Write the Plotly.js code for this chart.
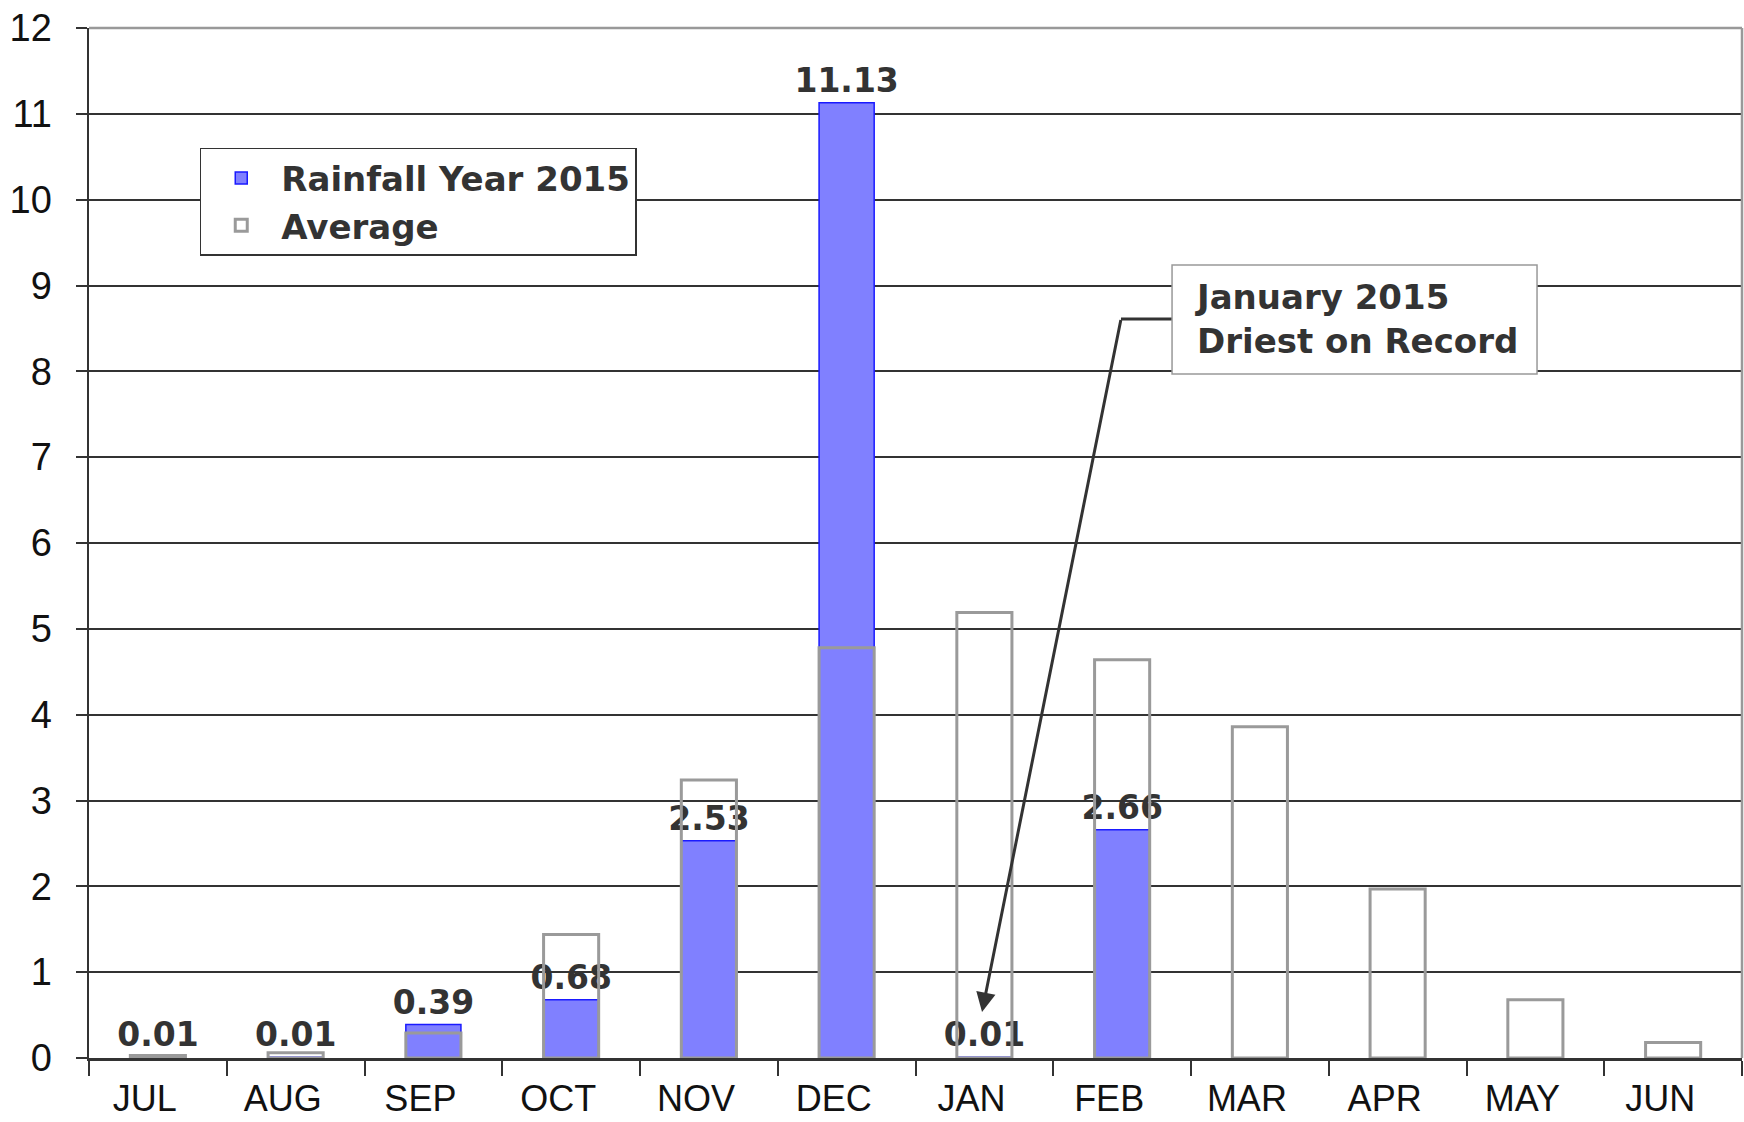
<!DOCTYPE html>
<html>
<head>
<meta charset="utf-8">
<script src="https://cdn.plot.ly/plotly-3.0.1.min.js"></script>
<style>html,body{margin:0;padding:0;background:#fff;}#chart{width:1744px;height:1122px;}</style>
</head>
<body>
<div id="chart"></div>
<script>
const months = ['JUL','AUG','SEP','OCT','NOV','DEC','JAN','FEB','MAR','APR','MAY','JUN'];
const rainfall2015 = [0.01, 0.01, 0.39, 0.68, 2.53, 11.13, 0.01, 2.66, null, null, null, null];
const average = [0.03, 0.06, 0.29, 1.44, 3.24, 4.78, 5.19, 4.64, 3.86, 1.97, 0.68, 0.18];
const rainLabels = rainfall2015.map(v => v == null ? '' : v.toFixed(2));
const yTicks = [0,1,2,3,4,5,6,7,8,9,10,11,12];

const boldFont = {family: 'DejaVu Sans', size: 33, color: '#333333', weight: 'bold'};

const traces = [
  {
    type: 'bar', name: 'Rainfall Year 2015', x: months, y: rainfall2015,
    width: 0.4,
    marker: {color: '#8080ff', line: {color: '#1a1aff', width: 1.5}},
    text: rainLabels, textposition: 'outside', constraintext: 'none', cliponaxis: false,
    textfont: boldFont, outsidetextfont: boldFont, hoverinfo: 'x+y'
  },
  {
    type: 'bar', name: 'Average', x: months, y: average,
    width: 0.4,
    marker: {color: 'rgba(255,255,255,0)', line: {color: '#9a9a9a', width: 3}},
    hoverinfo: 'x+y'
  }
];

const layout = {
  width: 1744, height: 1122,
  margin: {l: 89, r: 2, t: 28, b: 64},
  paper_bgcolor: '#ffffff', plot_bgcolor: '#ffffff',
  barmode: 'overlay',
  showlegend: true,
  legend: {
    x: 0.067, y: 0.8835, xanchor: 'left', yanchor: 'top',
    bgcolor: '#ffffff', bordercolor: '#333333', borderwidth: 1.5,
    font: {family: 'DejaVu Sans', size: 34, color: '#333333', weight: 'bold'},
    itemwidth: 70, tracegroupgap: 0
  },
  xaxis: {
    type: 'category', categoryorder: 'array', categoryarray: months,
    range: [-0.5, 11.5],
    tickson: 'boundaries', ticks: 'outside', ticklen: 15, tickwidth: 2, tickcolor: '#333333',
    showline: true, linecolor: '#333333', linewidth: 2.5,
    showgrid: false, zeroline: false,
    tickfont: {family: 'Liberation Sans', size: 36, color: '#111111'},
    ticklabelstandoff: 7, ticklabelshift: -13
  },
  yaxis: {
    range: [0, 12], tickvals: yTicks, ticktext: yTicks.map(String),
    ticks: 'outside', ticklen: 11, tickwidth: 2, tickcolor: '#333333',
    showline: true, linecolor: '#333333', linewidth: 2.5,
    showgrid: true, gridcolor: '#333333', gridwidth: 2, zeroline: false,
    tickfont: {family: 'Liberation Sans', size: 38, color: '#111111'},
    ticklabelstandoff: 16
  },
  shapes: [
    {type: 'line', xref: 'paper', yref: 'paper', x0: 0, x1: 1, y0: 1, y1: 1, line: {color: '#999999', width: 2.5}, layer: 'above'},
    {type: 'line', xref: 'paper', yref: 'paper', x0: 1, x1: 1, y0: 0, y1: 1, line: {color: '#999999', width: 2.5}, layer: 'above'},
    {type: 'line', xref: 'paper', yref: 'paper', x0: 0.6243, x1: 0.6552, y0: 0.7175, y1: 0.7175, line: {color: '#333333', width: 3}, layer: 'above'},
    {type: 'rect', xref: 'paper', yref: 'paper', x0: 0.6552, x1: 0.8760, y0: 0.6641, y1: 0.7699, line: {color: '#999999', width: 1.5}, fillcolor: '#ffffff', layer: 'above'}
  ],
  annotations: [
    {
      xref: 'x', yref: 'y', x: 5.983, y: 0.536, axref: 'x', ayref: 'y', ax: 6.992, ay: 8.61,
      text: ' ', font: {size: 1}, borderpad: 0, showarrow: true, arrowhead: 2, arrowsize: 1.3, arrowwidth: 3,
      arrowcolor: '#333333', standoff: 0, startstandoff: 0
    },
    {
      xref: 'paper', yref: 'paper', x: 0.6679, y: 0.717, xanchor: 'left', yanchor: 'middle',
      text: 'January 2015<br>Driest on Record', align: 'left', showarrow: false,
      font: {family: 'DejaVu Sans', size: 34, color: '#333333', weight: 'bold'}
    }
  ]
};

Plotly.newPlot('chart', traces, layout, {displayModeBar: false, staticPlot: true});
</script>
</body>
</html>
